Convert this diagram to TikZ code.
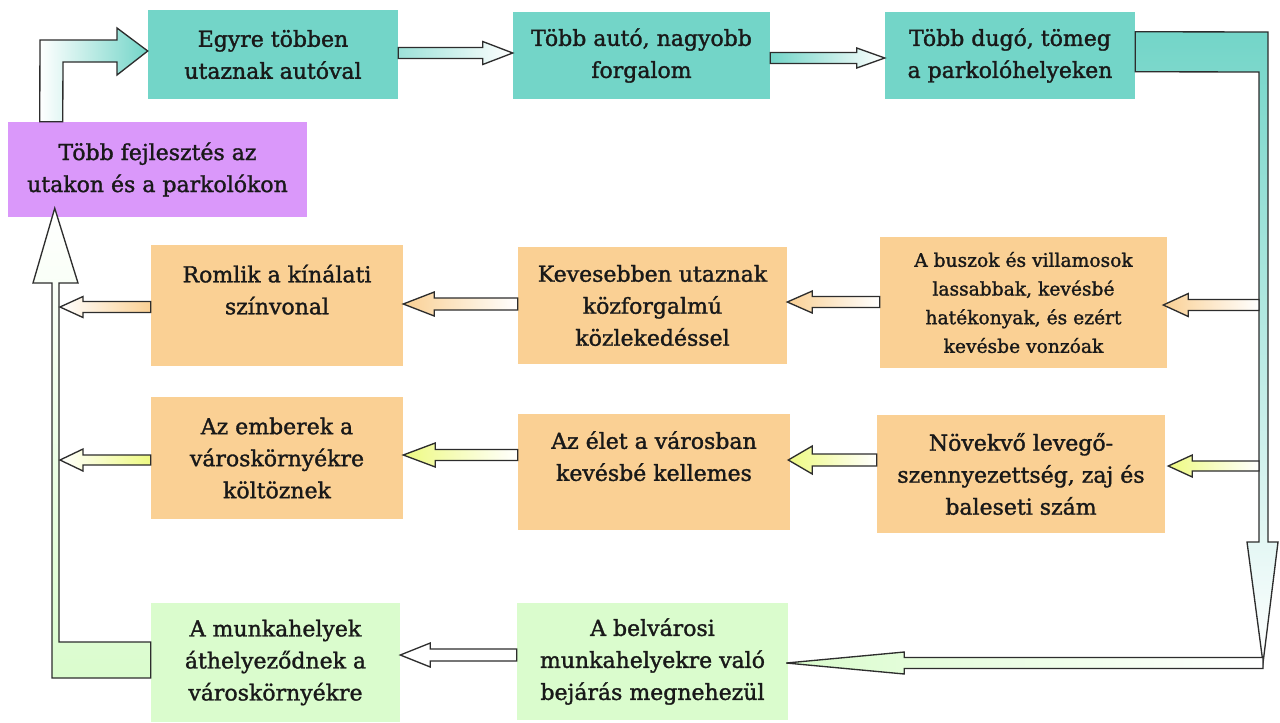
\documentclass[tikz,border=0pt]{standalone}
\usepackage{fontspec}
\setmainfont{DejaVu Serif}
\newfontfamily\heavyserif{DejaVu Serif}[FakeBold=1.4]
\usetikzlibrary{calc}
\definecolor{teal1}{RGB}{115,213,200}
\definecolor{purp}{RGB}{218,152,250}
\definecolor{peach}{RGB}{250,208,148}
\definecolor{lgreen}{RGB}{218,252,205}
\definecolor{yel}{RGB}{238,250,130}
\definecolor{edge}{RGB}{45,45,45}
% box: name, x1, y1, x2, y2 (pixels), options, text
\newcommand\bx[7]{\node[box,#6,minimum width={(#4-#2)*0.75pt},minimum height={(#5-#3)*0.75pt}] (#1) at ({(#2+#4)/2},{(#3+#5)/2}) {#7};}
% horizontal block arrow: tip point, tail point, shaft half, head half, signed head length (px), style
\newcommand\harrow[6]{%
 \path[arr,#6] let \p1=(#1), \p2=(#2) in
  (\x1,\y1) -- ({\x1+(#5)*0.75pt},{\y1+(#4)*0.75pt}) -- ({\x1+(#5)*0.75pt},{\y1+(#3)*0.75pt})
  -- ({\x2},{\y1+(#3)*0.75pt}) -- ({\x2},{\y1-(#3)*0.75pt}) -- ({\x1+(#5)*0.75pt},{\y1-(#3)*0.75pt})
  -- ({\x1+(#5)*0.75pt},{\y1-(#4)*0.75pt}) -- cycle;}
\begin{document}
\begin{tikzpicture}[x=0.75pt,y=-0.75pt,
  box/.style={rectangle,inner sep=0pt,align=center,text=black!90,
    font=\heavyserif\fontsize{16.5}{24}\selectfont},
  small/.style={font=\heavyserif\fontsize{14}{21.5}\selectfont},
  arr/.style={draw=edge,line width=1pt,line join=miter}]
\useasboundingbox[fill=white] (0,0) rectangle (1280,722);

% boxes
\bx{egyre}{148}{10}{398}{99}{fill=teal1}{Egyre többen\\utaznak autóval}
\bx{tobbauto}{513}{12}{770}{99}{fill=teal1}{Több autó, nagyobb\\forgalom}
\bx{dugo}{885}{12}{1135}{99}{fill=teal1}{Több dugó, tömeg\\a parkolóhelyeken}
\bx{fejl}{8}{122}{307}{217}{fill=purp}{Több fejlesztés az\\utakon és a parkolókon}
\bx{romlik}{151}{245}{403}{366}{fill=peach}{Romlik a kínálati\\színvonal\\\mbox{}}
\bx{kev}{518}{247}{787}{364}{fill=peach}{Kevesebben utaznak\\közforgalmú\\közlekedéssel}
\bx{buszok}{880}{237}{1167}{368}{fill=peach,small}{A buszok és villamosok\\lassabbak, kevésbé\\hatékonyak, és ezért\\kevésbe vonzóak}
\bx{emberek}{151}{397}{403}{519}{fill=peach}{Az emberek a\\városkörnyékre\\költöznek}
\bx{elet}{518}{414}{790}{530}{fill=peach}{Az élet a városban\\kevésbé kellemes\\\mbox{}}
\bx{novekvo}{877}{415}{1165}{533}{fill=peach}{Növekvő levegő-\\szennyezettség, zaj és\\baleseti szám}
\bx{munka}{151}{603}{400}{722}{fill=lgreen}{A munkahelyek\\áthelyeződnek a\\városkörnyékre}
\bx{belv}{517}{603}{788}{720}{fill=lgreen}{A belvárosi\\munkahelyekre való\\bejárás megnehezül}

% rail end points
\coordinate (railR1) at (1259,305);
\coordinate (railR2) at (1259,466);
\coordinate (railB) at (1263,663);
\coordinate (railL1) at (60,307);
\coordinate (railL2) at (60,460);

% top-left bent arrow
\path[arr,left color=white,right color=teal1]
  ($(fejl.north west)+(32,0)$) -- (40,40) -- (117,40) -- (117,28)
  -- ($(egyre.west)+(0,-3.5)$) -- (117,75) -- (117,62) -- (63,62)
  -- ($(fejl.north west)+(55,0)$) -- cycle;

% top-right bent arrow down the right side
\path[arr,top color=teal1,bottom color=white]
  ($(dugo.north east)+(0,20)$) -- (1268,32) -- (1268,542) -- (1278,542)
  -- (railB) -- (1247,542) -- (1259,542) -- (1259,72)
  -- ($(dugo.north east)+(0,60)$) -- cycle;

% left bent arrow up to the purple box
\path[arr,top color=white,bottom color=lgreen]
  ($(munka.west)+(0,-20.5)$) -- (59,642) -- (59,283) -- (78,283)
  -- ($(fejl.south west)+(47,-9)$) -- (33,283) -- (52,283) -- (52,678)
  -- ($(munka.west)+(0,15.5)$) -- cycle;

% top row arrows
\harrow{$(tobbauto.west)+(0,-2.5)$}{egyre.east}{5.5}{11.5}{-30}{left color=teal1!70,right color=white}
\harrow{$(dugo.west)+(0,2.5)$}{tobbauto.east}{5.5}{10}{-28}{left color=teal1,right color=white}

% second row arrows
\harrow{$(buszok.east)+(-4,2.5)$}{railR1}{5.5}{11.5}{25}{left color=peach,right color=white}
\harrow{$(kev.east)+(0,-3.5)$}{buszok.west}{5.5}{11}{25}{left color=peach,right color=white}
\harrow{$(romlik.east)+(0,-1.5)$}{kev.west}{6}{12}{31}{left color=peach,right color=white}
\harrow{railL1}{romlik.west}{5.5}{10.5}{23}{left color=white,right color=peach}

% third row arrows
\harrow{$(novekvo.east)+(3,-8)$}{railR2}{5}{11}{24}{left color=yel,right color=white}
\harrow{$(elet.east)+(-2,-12)$}{novekvo.west}{6}{14}{24}{left color=yel,right color=white}
\harrow{$(emberek.east)+(0,-3)$}{elet.west}{5.5}{12}{32}{left color=yel,right color=white}
\harrow{railL2}{emberek.west}{5}{11}{23}{left color=white,right color=yel}

% bottom row arrows
\harrow{$(belv.east)+(-2,1.5)$}{railB}{5.5}{11}{118}{left color=lgreen,right color=white}
\harrow{$(munka.east)+(0,-7.5)$}{belv.west}{6}{12}{30}{fill=white}
\end{tikzpicture}
\end{document}
